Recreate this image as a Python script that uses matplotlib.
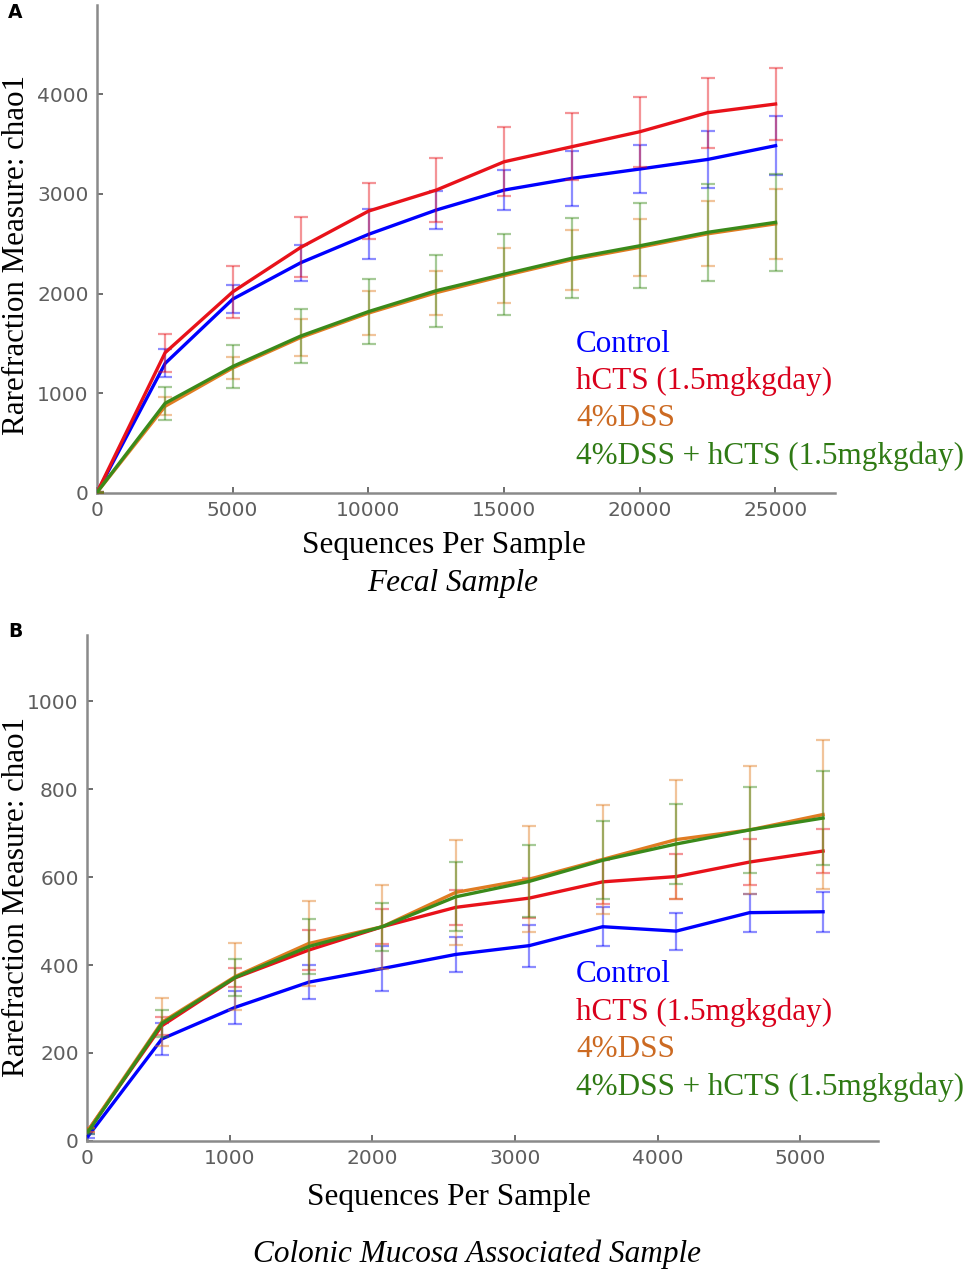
import matplotlib.pyplot as plt

W, H = 966, 1274

groups = ['Control', 'hCTS (1.5mgkgday)', '4%DSS', '4%DSS + hCTS (1.5mgkgday)']
line_colors = ['#0000ff', '#e8121a', '#e07c22', '#3a8a1a']
text_colors = ['#0000ff', '#d9001b', '#cc6a22', '#2f7a14']

# Panel A - fecal sample
depth_a = [10, 2510, 5010, 7510, 10010, 12510, 15010, 17510, 20010, 22510, 25010]
ctrl_a = [10, 1300, 1946, 2310, 2595, 2839, 3039, 3156, 3250, 3346, 3484]
ctrl_a_err = [5, 140, 140, 180, 250, 190, 200, 275, 240, 290, 295]
hcts_a = [10, 1407, 2019, 2464, 2828, 3039, 3323, 3474, 3624, 3815, 3902]
hcts_a_err = [5, 190, 260, 300, 280, 320, 345, 335, 350, 350, 365]
dss_a = [10, 870, 1255, 1560, 1805, 2010, 2180, 2340, 2465, 2600, 2700]
dss_a_err = [5, 90, 110, 190, 220, 220, 275, 300, 285, 325, 350]
combo_a = [10, 900, 1270, 1575, 1820, 2030, 2195, 2355, 2480, 2615, 2715]
combo_a_err = [5, 165, 215, 275, 330, 360, 405, 400, 425, 485, 485]

# Panel B - colonic mucosa associated sample
depth_b = [10, 525, 1040, 1555, 2070, 2585, 3100, 3615, 4130, 4645, 5160]
ctrl_b = [12, 232, 304, 361, 392, 424, 444, 487, 477, 519, 521]
ctrl_b_err = [5, 36, 38, 38, 52, 40, 48, 44, 42, 43, 45]
hcts_b = [25, 262, 371, 434, 487, 531, 552, 589, 601, 634, 659]
hcts_b_err = [5, 20, 22, 45, 40, 40, 45, 50, 51, 52, 50]
dss_b = [25, 270, 374, 449, 487, 565, 595, 640, 685, 707, 742]
dss_b_err = [5, 55, 76, 96, 95, 120, 120, 123, 135, 145, 170]
combo_b = [22, 267, 372, 442, 487, 555, 590, 638, 675, 707, 734]
combo_b_err = [5, 30, 42, 62, 55, 78, 82, 89, 90, 98, 107]

fig = plt.figure(figsize=(W / 100, H / 100), dpi=100)


def box(l, t, r, b):
    return [l / W, 1 - b / H, (r - l) / W, (b - t) / H]


def draw_panel(ax, depth, series, errs):
    # draw order: blue, orange, green, red
    for i in [0, 2, 3, 1]:
        ax.errorbar(depth, series[i], yerr=errs[i], color=line_colors[i],
                    ecolor=line_colors[i], elinewidth=1.6, capsize=5,
                    capthick=1.6, lw=2.4, zorder=3 + i)
    # translucent error bars
    for coll in ax.collections:
        coll.set_alpha(0.45)
    for ln in ax.lines:
        if ln.get_marker() == '_':
            ln.set_alpha(0.45)
    for s in ['top', 'right']:
        ax.spines[s].set_visible(False)
    for s in ['left', 'bottom']:
        ax.spines[s].set_color('#8a8a8a')
        ax.spines[s].set_linewidth(1.8)
    ax.tick_params(direction='in', length=4, width=1.2, color='#555555',
                   labelcolor='#5e5e5e', labelsize=14.5, pad=6)
    for lab in ax.get_xticklabels() + ax.get_yticklabels():
        lab.set_fontweight('medium')


axA = fig.add_axes(box(97, 5, 835, 493))
axA.set_xlim(0, 27200)
axA.set_ylim(0, 4895)
axA.set_xticks([0, 5000, 10000, 15000, 20000, 25000])
axA.set_yticks([0, 1000, 2000, 3000, 4000])
draw_panel(axA, depth_a, [ctrl_a, hcts_a, dss_a, combo_a],
           [ctrl_a_err, hcts_a_err, dss_a_err, combo_a_err])

axB = fig.add_axes(box(87, 635, 878, 1141))
axB.set_xlim(0, 5545)
axB.set_ylim(0, 1150)
axB.set_xticks([0, 1000, 2000, 3000, 4000, 5000])
axB.set_yticks([0, 200, 400, 600, 800, 1000])
draw_panel(axB, depth_b, [ctrl_b, hcts_b, dss_b, combo_b],
           [ctrl_b_err, hcts_b_err, dss_b_err, combo_b_err])

serif = 'Liberation Serif'

# panel letters
fig.text(8 / W, 1 - 18 / H, 'A', fontsize=13.5, fontweight='bold', family='DejaVu Sans')
fig.text(8 / W, 1 - 637 / H, 'B', fontsize=13.5, fontweight='bold', family='DejaVu Sans')

# axis labels
fig.text(17 / W, 1 - 255 / H, 'Rarefraction Measure: chao1', rotation=90,
         ha='center', va='center', fontsize=22.3, family=serif)
fig.text(17 / W, 1 - 897 / H, 'Rarefraction Measure: chao1', rotation=90,
         ha='center', va='center', fontsize=22.3, family=serif)
fig.text(444 / W, 1 - 545 / H, 'Sequences Per Sample', ha='center', va='center',
         fontsize=22.5, family=serif)
fig.text(453 / W, 1 - 583 / H, 'Fecal Sample', ha='center', va='center',
         fontsize=22.5, family=serif, style='italic')
fig.text(449 / W, 1 - 1197 / H, 'Sequences Per Sample', ha='center', va='center',
         fontsize=22.5, family=serif)
fig.text(477 / W, 1 - 1254 / H, 'Colonic Mucosa Associated Sample', ha='center',
         va='center', fontsize=22.5, family=serif, style='italic')

# legend text
for y0 in (344, 975):
    for k, name in enumerate(groups):
        fig.text(576 / W, 1 - (y0 + 37.3 * k) / H, name, ha='left', va='center',
                 fontsize=22.4, family=serif, color=text_colors[k])

fig.savefig('out.png', dpi=100)
